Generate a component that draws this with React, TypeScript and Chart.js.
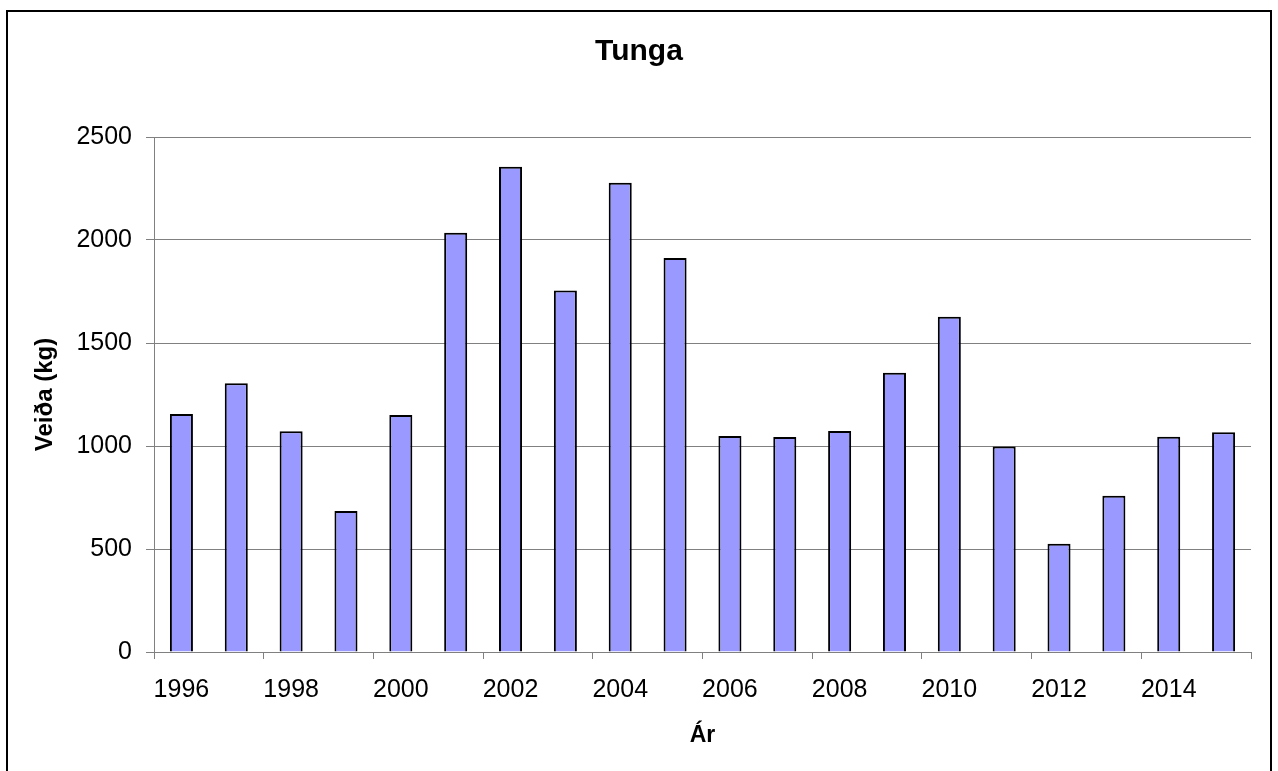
import React, { useEffect, useRef } from "react";
import { Chart, registerables } from "chart.js";

Chart.register(...registerables);

const years = ["1996","1997","1998","1999","2000","2001","2002","2003","2004","2005","2006","2007","2008","2009","2010","2011","2012","2013","2014","2015"];
const catch_kg = [1155, 1305, 1072, 685, 1150, 2035, 2355, 1755, 2278, 1913, 1048, 1044, 1073, 1355, 1628, 998, 525, 758, 1045, 1067];
const yTicks = [0, 500, 1000, 1500, 2000, 2500];
const chartTitle = "Tunga";

const FONT = "'Liberation Sans', Arial, sans-serif";
const GRAY = "#808080";

const decorPlugin = {
  id: "decor",
  afterDraw(chart: any) {
    const ctx = chart.ctx;
    ctx.save();
    ctx.strokeStyle = "#000";
    ctx.lineWidth = 2;
    ctx.strokeRect(7, 11, 1264, 770);
    ctx.fillStyle = "#000";
    ctx.font = `bold 30px ${FONT}`;
    ctx.textAlign = "center";
    ctx.textBaseline = "middle";
    ctx.fillText(chartTitle, chart.width / 2, 52);
    ctx.restore();
  },
};

export default function App() {
  const ref = useRef<HTMLCanvasElement | null>(null);
  useEffect(() => {
    if (!ref.current) return;
    const chart = new Chart(ref.current, {
      type: "bar",
      data: {
        labels: years,
        datasets: [
          {
            data: catch_kg,
            backgroundColor: "#9999FF",
            borderColor: "#000000",
            borderWidth: 2,
            categoryPercentage: 1,
            barPercentage: 0.42,
          },
        ],
      },
      options: {
        responsive: false,
        animation: false,
        layout: { padding: { top: 137, left: 0, right: 27, bottom: 0 } },
        plugins: {
          legend: { display: false },
          tooltip: { enabled: false },
          title: { display: false },
        },
        scales: {
          x: {
            type: "category",
            offset: true,
            afterFit(scale: any) {
              scale.height = 119;
            },
            grid: {
              offset: true,
              drawOnChartArea: false,
              drawTicks: true,
              tickLength: 7,
              color: (ctx: any) =>
                ctx.index === undefined || ctx.index % 2 === 0 ? GRAY : "rgba(0,0,0,0)",
              lineWidth: 1,
            },
            border: { display: true, color: GRAY, width: 1 },
            ticks: {
              autoSkip: false,
              maxRotation: 0,
              minRotation: 0,
              padding: 16,
              color: "#000",
              font: { family: FONT, size: 25 },
              callback: (_v: any, i: number) => (i % 2 === 0 ? years[i] : ""),
            },
            title: {
              display: true,
              text: "Ár",
              color: "#000",
              font: { family: FONT, size: 23, weight: "bold", lineHeight: 1.2 },
              padding: { top: 0, bottom: 22 },
            },
          },
          y: {
            min: 0,
            max: 2500,
            afterFit(scale: any) {
              scale.width = 154;
            },
            afterBuildTicks(scale: any) {
              scale.ticks = yTicks.map((v) => ({ value: v }));
            },
            grid: {
              color: GRAY,
              lineWidth: 1,
              drawTicks: true,
              tickLength: 8,
            },
            border: { display: true, color: GRAY, width: 1 },
            ticks: {
              padding: 14,
              color: "#000",
              font: { family: FONT, size: 25 },
              callback: (v: any) => String(v),
            },
            title: {
              display: true,
              text: "Veiða (kg)",
              color: "#000",
              font: { family: FONT, size: 24, weight: "bold", lineHeight: 1.2 },
              padding: { top: 31, bottom: 0 },
            },
          },
        },
      },
      plugins: [decorPlugin],
    } as any);
    return () => chart.destroy();
  }, []);

  return (
    <div style={{ position: "absolute", left: 0, top: 0, width: 1278, height: 771, background: "#fff" }}>
      <canvas ref={ref} width={1278} height={771} style={{ display: "block" }} />
    </div>
  );
}
